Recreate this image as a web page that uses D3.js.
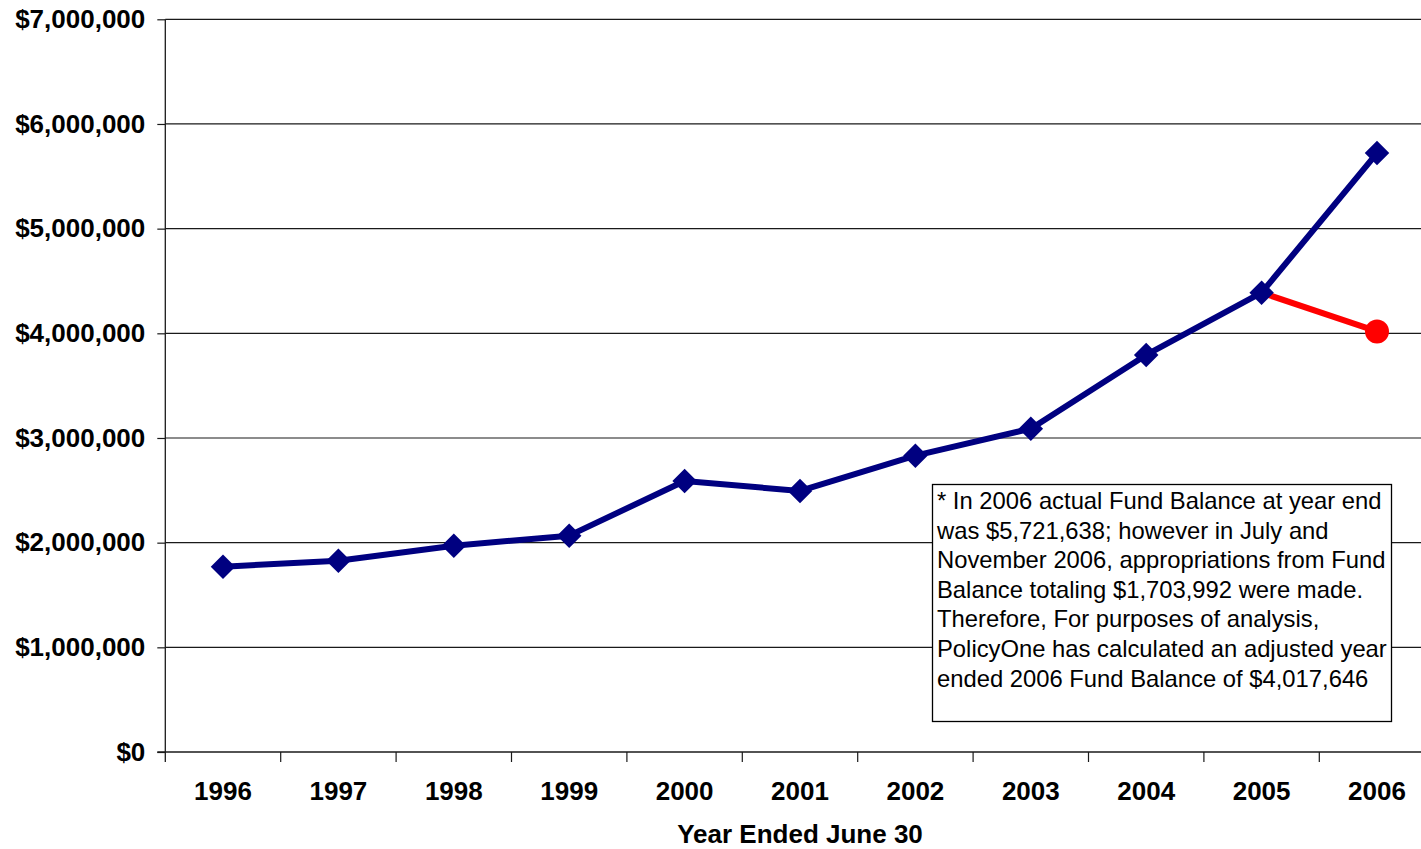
<!DOCTYPE html>
<html>
<head>
<meta charset="utf-8">
<script src="https://cdn.jsdelivr.net/npm/d3@7"></script>
<style>
  html, body { margin: 0; padding: 0; background: #fff; }
  svg { display: block; font-family: "Liberation Sans", Arial, sans-serif; }
</style>
</head>
<body>
<svg id="chart" width="1421" height="849"></svg>
<script>
// Fund balance at year end (June 30), 1996-2006
const years = ["1996", "1997", "1998", "1999", "2000", "2001", "2002", "2003", "2004", "2005", "2006"];
const fundBalance = [1770000, 1828000, 1971000, 2067000, 2589000, 2494000, 2831000, 3089000, 3793000, 4388000, 5721638];
// Adjusted 2006 balance after appropriations, drawn from the 2005 point
const adjustedYears = ["2005", "2006"];
const adjustedBalance = [4388000, 4017646];
const yTicks = [0, 1000000, 2000000, 3000000, 4000000, 5000000, 6000000, 7000000];
const xTitle = "Year Ended June 30";
const noteLines = [
  "* In 2006 actual Fund Balance at year end",
  "was $5,721,638; however in July and",
  "November 2006, appropriations from Fund",
  "Balance totaling $1,703,992 were made.",
  "Therefore, For purposes of analysis,",
  "PolicyOne has calculated an adjusted year",
  "ended 2006 Fund Balance of $4,017,646"
];

const svg = d3.select("#chart");
const plotLeft = 165.3, plotRight = 1434.7, plotTop = 19.3, plotBottom = 752;
const labelSize = 26;

const x = d3.scaleBand().domain(years).range([plotLeft, plotRight]).paddingInner(0).paddingOuter(0);
const y = d3.scaleLinear().domain([0, 7000000]).range([plotBottom, plotTop]);
const cx = d => x(d) + x.bandwidth() / 2;
const money = d => "$" + d3.format(",")(d);

// horizontal gridlines
svg.append("g")
  .selectAll("line")
  .data(yTicks.filter(d => d > 0))
  .join("line")
  .attr("x1", plotLeft).attr("x2", plotRight)
  .attr("y1", d => y(d)).attr("y2", d => y(d))
  .attr("stroke", "#1a1a1a").attr("stroke-width", 1.2);

// y axis
const yAxis = svg.append("g")
  .attr("transform", `translate(${plotLeft},0)`)
  .call(d3.axisLeft(y).tickValues(yTicks).tickFormat(money).tickSize(8).tickPadding(12));
yAxis.select(".domain").attr("stroke", "#1a1a1a").attr("stroke-width", 1.3)
  .attr("d", `M0,${plotTop}V${plotBottom + 10}`);
yAxis.selectAll(".tick line").attr("stroke", "#1a1a1a").attr("stroke-width", 1.2);
yAxis.selectAll(".tick text")
  .attr("font-size", labelSize).attr("font-weight", "bold").attr("fill", "#000")
  .attr("font-family", "'Liberation Sans', Arial, sans-serif");

// x axis with ticks at band boundaries
const xAxis = svg.append("g").attr("transform", `translate(0,${plotBottom})`);
xAxis.append("line")
  .attr("x1", plotLeft - 8).attr("x2", plotRight)
  .attr("stroke", "#1a1a1a").attr("stroke-width", 1.3);
xAxis.selectAll("line.tk")
  .data(years.slice(1))
  .join("line").attr("class", "tk")
  .attr("x1", d => x(d)).attr("x2", d => x(d))
  .attr("y1", 0).attr("y2", 10)
  .attr("stroke", "#1a1a1a").attr("stroke-width", 1.2);
xAxis.selectAll("text")
  .data(years)
  .join("text")
  .attr("x", d => cx(d)).attr("y", 48)
  .attr("text-anchor", "middle")
  .attr("font-size", labelSize).attr("font-weight", "bold")
  .text(d => d);

svg.append("text")
  .attr("x", (plotLeft + plotRight) / 2).attr("y", 843)
  .attr("text-anchor", "middle")
  .attr("font-size", labelSize).attr("font-weight", "bold")
  .text(xTitle);

// adjusted line (red)
const adjData = adjustedYears.map((d, i) => ({ year: d, value: adjustedBalance[i] }));
svg.append("path")
  .datum(adjData)
  .attr("fill", "none").attr("stroke", "#ff0000").attr("stroke-width", 6)
  .attr("d", d3.line().x(d => cx(d.year)).y(d => y(d.value)));

// fund balance line (navy)
const data = years.map((d, i) => ({ year: d, value: fundBalance[i] }));
svg.append("path")
  .datum(data)
  .attr("fill", "none").attr("stroke", "#000080").attr("stroke-width", 6)
  .attr("stroke-linejoin", "round")
  .attr("d", d3.line().x(d => cx(d.year)).y(d => y(d.value)));

// diamond markers
const diamond = d3.symbol().type(d3.symbolSquare).size(300);
svg.append("g")
  .selectAll("path")
  .data(data)
  .join("path")
  .attr("d", diamond)
  .attr("transform", d => `translate(${cx(d.year)},${y(d.value)}) rotate(45)`)
  .attr("fill", "#000080");

// adjusted 2006 marker
svg.append("circle")
  .datum(adjData[1])
  .attr("cx", d => cx(d.year)).attr("cy", d => y(d.value))
  .attr("r", 12).attr("fill", "#ff0000");

// explanatory note
const note = svg.append("g");
note.append("rect")
  .attr("x", 932.5).attr("y", 484.5).attr("width", 459).attr("height", 237)
  .attr("fill", "#fff").attr("stroke", "#000").attr("stroke-width", 1.3);
note.selectAll("text")
  .data(noteLines)
  .join("text")
  .attr("x", 937).attr("y", (d, i) => 509 + i * 29.6)
  .attr("font-size", 23.8)
  .attr("fill", "#000")
  .text(d => d);
</script>
</body>
</html>
